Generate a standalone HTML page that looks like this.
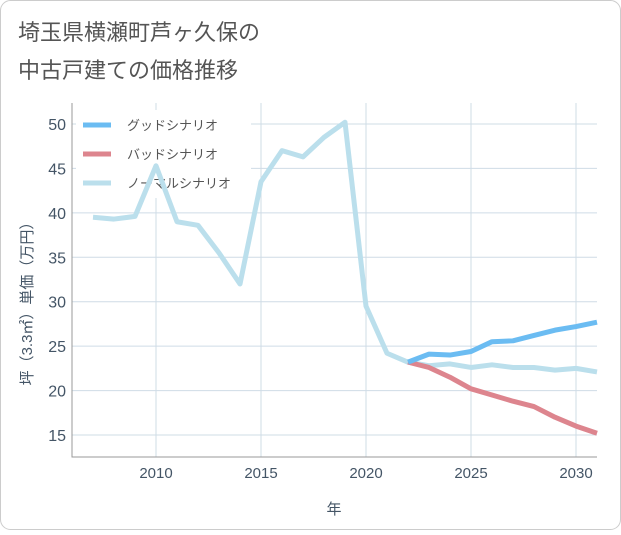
<!DOCTYPE html>
<html><head><meta charset="utf-8"><style>
body{margin:0;background:#fff;}
svg{font-family:"Liberation Sans","Noto Sans CJK JP",sans-serif;}
</style></head><body>
<svg width="621" height="530">
<rect x="0.5" y="0.5" width="620" height="529" rx="10" fill="#fff" stroke="#ccc"/>
<text x="18" y="40" font-size="22" fill="#555">埼玉県横瀬町芦ヶ久保の</text>
<text x="18" y="78" font-size="22" fill="#555">中古戸建ての価格推移</text>
<g id="grid"></g>
<g id="legend"></g>
<g id="series"></g>
<text transform="translate(32,300) rotate(-90)" text-anchor="middle" font-size="15" fill="#456">坪（3.3㎡）単価（万円）</text>
<text x="334" y="514" text-anchor="middle" font-size="15" fill="#456">年</text>
</svg>
<script>
const years=[2007,2008,2009,2010,2011,2012,2013,2014,2015,2016,2017,2018,2019,2020,2021,2022,2023,2024,2025,2026,2027,2028,2029,2030,2031];
const normal=[39.5,39.3,39.6,45.3,39,38.6,35.5,32,43.5,47,46.3,48.5,50.2,29.5,24.2,23.2,22.8,23,22.6,22.9,22.6,22.6,22.3,22.5,22.1];
const goodYears=[2022,2023,2024,2025,2026,2027,2028,2029,2030,2031];
const good=[23.2,24.1,24,24.4,25.5,25.6,26.2,26.8,27.2,27.7];
const bad=[23.2,22.6,21.5,20.2,19.5,18.8,18.2,17,16,15.2];
const xTicks=[2010,2015,2020,2025,2030];
const yTicks=[15,20,25,30,35,40,45,50];
const L=72,R=597,T=103,B=457;
const X=v=>156+(v-2010)*21;
const Y=v=>435-(v-15)*(311/35);
const NS="http://www.w3.org/2000/svg";
function mk(p,tag,a){const e=document.createElementNS(NS,tag);for(const k in a)e.setAttribute(k,a[k]);p.appendChild(e);return e;}
const g=document.getElementById('grid');
for(const t of xTicks){const l=mk(g,'line',{x1:X(t),x2:X(t),y1:T,y2:B,stroke:'#cfdce6'});

const tx=mk(g,'text',{x:X(t),y:B+21,'text-anchor':'middle','font-size':15,fill:'#456'});tx.textContent=t;
}
for(const t of yTicks){const l=mk(g,'line',{x1:L,x2:R,y1:Y(t),y2:Y(t),stroke:'#cfdce6'});

const tx=mk(g,'text',{x:L-6,y:Y(t)+6,'text-anchor':'end','font-size':16,fill:'#456'});tx.textContent=t;
}
const ax=mk(g,'path',{d:`M${L},${T}V${B}H${R}`,fill:'none',stroke:'#999'});

const s=document.getElementById('series');
function line(xs,ys,c,n){const p=mk(s,'polyline',{points:xs.map((x,i)=>X(x)+','+Y(ys[i])).join(' '),fill:'none',stroke:c,'stroke-width':5,'stroke-linejoin':'round'});
}
line(years,normal,'#bbdfec','normal-line');
line(goodYears,bad,'#dd858e','bad-line');
line(goodYears,good,'#6bbcf2','good-line');
const lg=document.getElementById('legend');
const bg=mk(lg,'rect',{x:76,y:110,width:175,height:88,fill:'#fff'});

[['グッドシナリオ','#6bbcf2'],['バッドシナリオ','#dd858e'],['ノーマルシナリオ','#bbdfec']].forEach((d,i)=>{
const y=125+i*29;
const l=mk(lg,'line',{x1:83,x2:111,y1:y,y2:y,stroke:d[1],'stroke-width':5});

const t=mk(lg,'text',{x:127,y:y+5,'font-size':13,fill:'#555'});t.textContent=d[0];
});
</script>
</body></html>
